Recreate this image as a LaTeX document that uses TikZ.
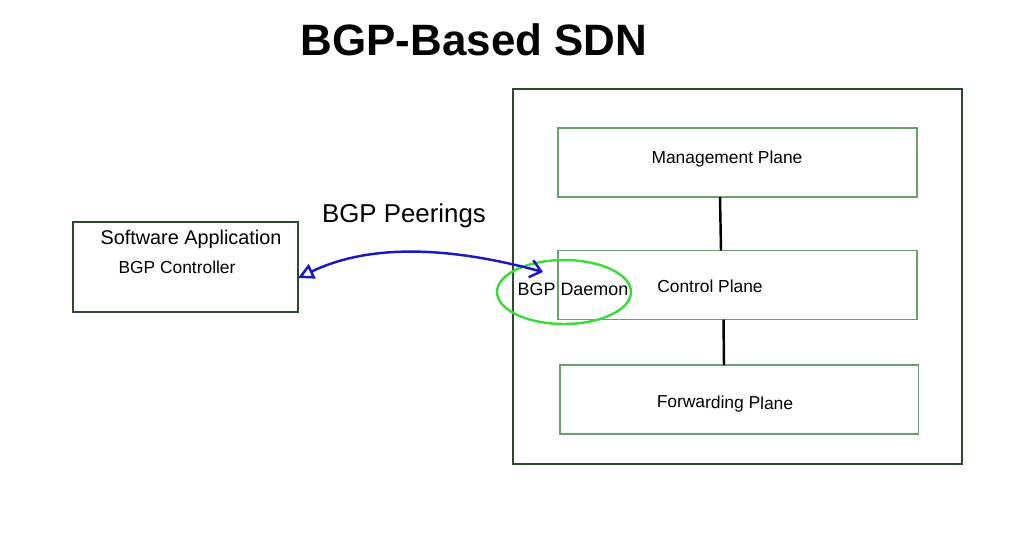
\documentclass[tikz,border=0pt]{standalone}
\usepackage{fontspec}
\setmainfont{Liberation Sans}
\usepackage{tikz}
\usetikzlibrary{arrows.meta,shapes.geometric}
\definecolor{darkframe}{HTML}{2E4A2E}
\definecolor{planegreen}{HTML}{6E9E6E}
\definecolor{daemongreen}{HTML}{3CDC3C}
\definecolor{peerblue}{HTML}{1818C8}

\begin{document}
\begin{tikzpicture}[x=0.02cm, y=-0.02cm,
    every node/.style={outer sep=0pt, inner sep=0pt},
    frame/.style={draw=darkframe, line width=1.4pt},
    plane/.style={draw=planegreen, line width=1.1pt, minimum width=7.18cm, minimum height=1.38cm},
    label/.style={font=\fontsize{9.9}{12}\selectfont}]
    \useasboundingbox (0,0) rectangle (1024,532);

    % Title
    \node (title) at (474,40) {\fontsize{25}{30}\selectfont\bfseries BGP-Based SDN};

    % Software application
    \node[frame, minimum width=4.5cm, minimum height=1.8cm] (app) at (185.5,267) {};
    \node[font=\fontsize{11.3}{13}\selectfont] (apptitle) at (191,239) {Software Application};
    \node[label] (controller) at (177,267) {BGP Controller};

    % Router
    \node[frame, minimum width=8.98cm, minimum height=7.5cm] (router) at (737.5,276.5) {};
    \node[plane] (mgmt) at (737.5,162.5) {};
    \node[label] (mgmtlabel) at (727,159) {Management Plane};
    \node[plane] (cp) at (737.5,285) {};
    \node[label] (cplabel) at (710,286) {Control Plane};
    \node[plane] (fwd) at (739,399.5) {};
    \node[label, rotate=-1] (fwdlabel) at (725,404) {Forwarding Plane};
    \draw[line width=1.4pt] ([xshift=-0.35cm]mgmt.south) -- ([xshift=-0.33cm]cp.north);
    \draw[line width=1.4pt] ([xshift=-0.28cm]cp.south) -- ([xshift=-0.3cm]fwd.north);

    % BGP daemon
    \node[draw=daemongreen, line width=1.4pt, ellipse, minimum width=2.68cm, minimum height=1.28cm] (daemon) at (564,292) {};
    \node[font=\fontsize{10.2}{12}\selectfont] (daemonlabel) at (573,289) {BGP Daemon};

    % Peering
    \coordinate (peerapp) at (298,278);
    \coordinate (peerdaemon) at (543,272);
    \draw[peerblue, line width=1.4pt, {Triangle[open, length=9pt, width=9pt]}-{Straight Barb[length=6pt, width=10pt]}]
        (peerapp) .. controls (365,246) and (440,244) .. (peerdaemon);
    \node[font=\fontsize{14.7}{17}\selectfont] (peerings) at (404,216) {BGP Peerings};

\end{tikzpicture}
\end{document}
